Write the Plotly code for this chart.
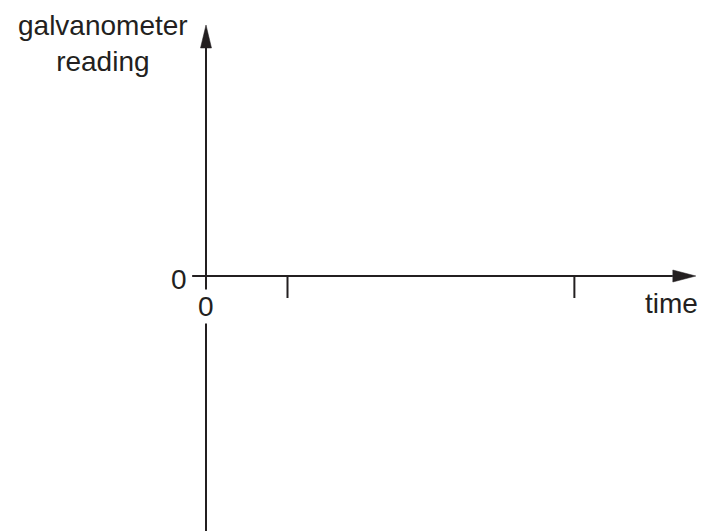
import plotly.graph_objects as go

# ---- data (axis units) ----
tick_times = [1.0, 4.52]          # tick marks on the time axis
x_axis_start = -0.17              # left end of time axis (past the origin)
x_axis_tip = 6.01                 # arrow tip of time axis
y_axis_bottom = -2.64             # bottom end of reading axis
y_axis_tip = 2.51                 # arrow tip of reading axis
tick_len = 0.22                   # tick length (reading units)
x_label = "time"
y_label = "galvanometer<br>reading"
origin_label = "0"

INK = "#231f20"
FONT = "Liberation Sans, Arial, Helvetica, sans-serif"
FS = 28
PX_X = 81.5   # pixels per time unit
PX_Y = 100.0  # pixels per reading unit
OX, OY = 198, 268  # origin position inside the figure (page has 8px body margin)

fig = go.Figure()
fig.add_trace(go.Scatter(x=[0], y=[0], mode="markers", marker=dict(opacity=0),
                         hoverinfo="skip", showlegend=False))

shapes = []
shapes.append(dict(type="line", xref="x", yref="y", x0=x_axis_start, y0=0,
                   x1=x_axis_tip - 23 / PX_X, y1=0, line=dict(color=INK, width=2)))
shapes.append(dict(type="line", xref="x", yref="y", x0=0, y0=y_axis_bottom,
                   x1=0, y1=y_axis_tip - 23 / PX_Y, line=dict(color=INK, width=2)))
for t in tick_times:
    shapes.append(dict(type="line", xref="x", yref="y", x0=t, y0=0, x1=t, y1=-tick_len,
                       line=dict(color=INK, width=2)))
shapes.append(dict(type="path", xref="x", yref="y", xsizemode="pixel", ysizemode="pixel",
                   xanchor=x_axis_tip, yanchor=0, path="M 0 0 L -23 6 L -23 -6 Z",
                   fillcolor=INK, line=dict(color=INK, width=0.5)))
shapes.append(dict(type="path", xref="x", yref="y", xsizemode="pixel", ysizemode="pixel",
                   xanchor=0, yanchor=y_axis_tip, path="M 0 0 L -5.5 -23 L 5.5 -23 Z",
                   fillcolor=INK, line=dict(color=INK, width=0.5)))

font = dict(size=FS, color=INK, family=FONT)
annotations = [
    dict(x=0, y=-0.30, xref="x", yref="y", text=origin_label, showarrow=False,
         font=font, bgcolor="white", borderpad=1, xanchor="center", yanchor="middle"),
    dict(x=-0.33, y=-0.03, xref="x", yref="y", text=origin_label, showarrow=False,
         font=font, xanchor="center", yanchor="middle"),
    dict(x=5.71, y=-0.27, xref="x", yref="y", text=x_label, showarrow=False,
         font=font, xanchor="center", yanchor="middle"),
    dict(x=-1.26, y=2.33, xref="x", yref="y", text=y_label, showarrow=False,
         font=font, xanchor="center", yanchor="middle", borderpad=0),
]

fig.update_layout(
    width=711, height=531,
    margin=dict(l=0, r=0, t=0, b=0),
    paper_bgcolor="white", plot_bgcolor="white",
    xaxis=dict(range=[-OX / PX_X, (711 - OX) / PX_X], visible=False, fixedrange=True),
    yaxis=dict(range=[-(531 - OY) / PX_Y, OY / PX_Y], visible=False, fixedrange=True),
    shapes=shapes, annotations=annotations, showlegend=False,
)
fig.write_html("out.html")
